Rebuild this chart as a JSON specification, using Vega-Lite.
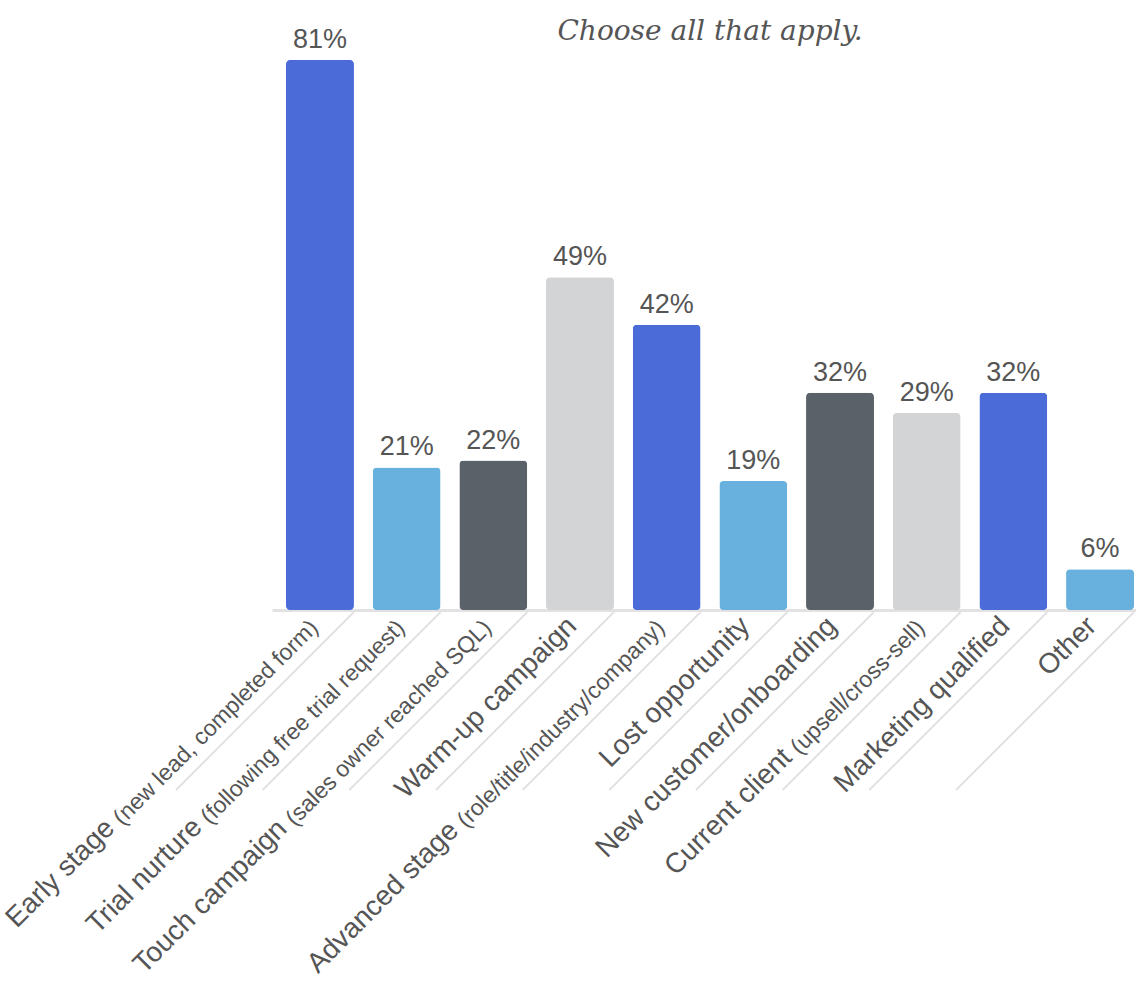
{
  "$schema": "https://vega.github.io/schema/vega-lite/v6.json",
  "width": 864,
  "height": 550,
  "autosize": {"type": "none"},
  "padding": {"left": 272, "top": 60, "right": 0, "bottom": 382},
  "background": "white",
  "config": {"view": {"stroke": null}},
  "title": {
    "text": "Choose all that apply.",
    "font": "DejaVu Serif",
    "fontStyle": "italic",
    "fontWeight": "normal",
    "fontSize": 28,
    "color": "#555555",
    "anchor": "middle",
    "frame": "group",
    "dx": 6,
    "offset": -20
  },
  "data": {
    "values": [
      {"cat": "Early stage", "sub": "(new lead, completed form)", "pct": 0.81},
      {"cat": "Trial nurture", "sub": "(following free trial request)", "pct": 0.21},
      {"cat": "Touch campaign", "sub": "(sales owner reached SQL)", "pct": 0.22},
      {"cat": "Warm-up campaign", "sub": "", "pct": 0.49},
      {"cat": "Advanced stage", "sub": "(role/title/industry/company)", "pct": 0.42},
      {"cat": "Lost opportunity", "sub": "", "pct": 0.19},
      {"cat": "New customer/onboarding", "sub": "", "pct": 0.32},
      {"cat": "Current client", "sub": "(upsell/cross-sell)", "pct": 0.29},
      {"cat": "Marketing qualified", "sub": "", "pct": 0.32},
      {"cat": "Other", "sub": "", "pct": 0.06}
    ]
  },
  "layer": [
    {
      "mark": {"type": "bar", "cornerRadius": 4},
      "encoding": {
        "x": {
          "field": "cat", "type": "nominal", "sort": null,
          "scale": {"paddingInner": 0.216, "paddingOuter": 0.0923, "align": 0.875},
          "axis": {"labels": false, "ticks": false, "title": null, "domainColor": "#e2e2e2", "domainWidth": 3}
        },
        "y": {"field": "pct", "type": "quantitative", "scale": {"domain": [0, 0.81], "nice": false, "zero": true}, "axis": null},
        "color": {
          "field": "cat", "type": "nominal", "sort": null, "legend": null,
          "scale": {"range": ["#4a6bd8", "#68b1de", "#5a6169", "#d3d4d6", "#4a6bd8", "#68b1de", "#5a6169", "#d3d4d6", "#4a6bd8", "#68b1de"]}
        }
      }
    },
    {
      "mark": {"type": "rule", "color": "#e2e2e2", "strokeWidth": 2, "yOffset": 2, "y2Offset": 180, "x2Offset": -178},
      "encoding": {
        "x": {"field": "cat", "type": "nominal", "sort": null, "bandPosition": 1},
        "x2": {"field": "cat", "bandPosition": 1},
        "y": {"datum": 0},
        "y2": {"datum": 0}
      }
    },
    {
      "mark": {"type": "text", "baseline": "alphabetic", "dy": -12, "fontSize": 27, "font": "Liberation Sans", "color": "#555555"},
      "encoding": {
        "x": {"field": "cat", "type": "nominal", "sort": null},
        "y": {"field": "pct", "type": "quantitative"},
        "text": {"field": "pct", "type": "quantitative", "format": ".0%"}
      }
    },
    {
      "mark": {"type": "text", "angle": 315, "align": "right", "baseline": "alphabetic", "dx": -38, "dy": -11, "fontSize": 23, "font": "Liberation Sans", "color": "#555555"},
      "encoding": {
        "x": {"field": "cat", "type": "nominal", "sort": null, "bandPosition": 1},
        "y": {"datum": 0},
        "text": {"field": "sub"}
      }
    },
    {
      "mark": {
        "type": "text", "angle": 315, "align": "right", "baseline": "alphabetic",
        "dx": {"expr": "datum.sub ? -(45 + 23*(0.556*length(datum.sub) - 0.334*length(replace(datum.sub, regexp('[^ijl]','g'), '')) - 0.278*length(replace(datum.sub, regexp('[^ft/ ,.]','g'), '')) - 0.223*length(replace(datum.sub, regexp('[^r()-]','g'), '')) - 0.056*length(replace(datum.sub, regexp('[^scyvkxz]','g'), '')) + 0.277*length(replace(datum.sub, regexp('[^m]','g'), '')) + 0.166*length(replace(datum.sub, regexp('[^w]','g'), '')) + 0.222*length(replace(datum.sub, regexp('[^Q]','g'), '')) + 0.111*length(replace(datum.sub, regexp('[^ABCDEFGHKNPRSTUVXYZ]','g'), '')))) : -38"},
        "dy": -13, "fontSize": 28, "font": "Liberation Sans", "color": "#555555"
      },
      "encoding": {
        "x": {"field": "cat", "type": "nominal", "sort": null, "bandPosition": 1},
        "y": {"datum": 0},
        "text": {"field": "cat"}
      }
    }
  ]
}
